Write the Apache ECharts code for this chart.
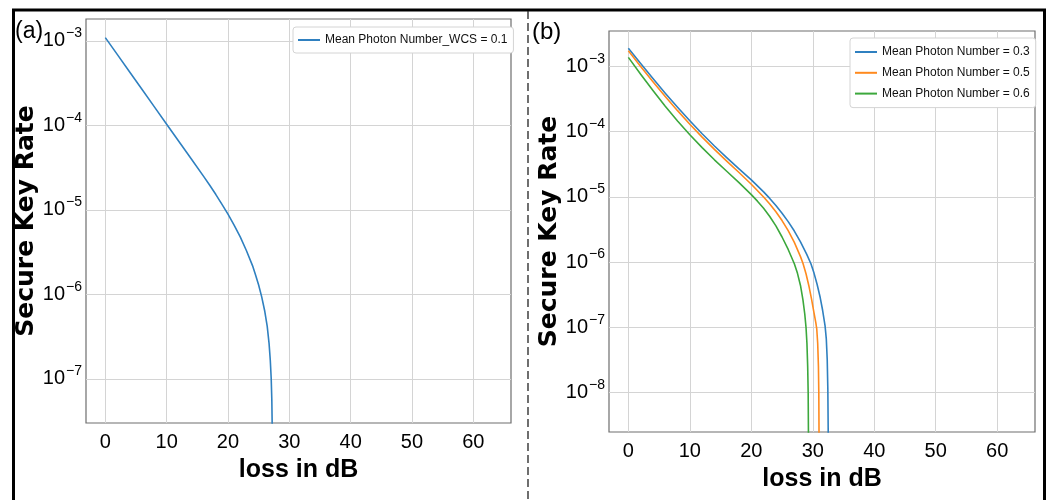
<!DOCTYPE html>
<html><head><meta charset="utf-8">
<script src="https://cdn.jsdelivr.net/npm/echarts@6/dist/echarts.min.js"></script>
<style>html,body{margin:0;padding:0;background:#fff}#c{width:1049px;height:500px}</style>
</head><body><div id="c"></div>
<script>
// ---------- data ----------
const seriesNameA = 'Mean Photon Number_WCS = 0.1';
const lossA = [0, 2, 4, 6, 8, 10, 12, 14, 16, 17, 18, 19, 20, 21, 22, 23, 24, 24.5, 25, 25.5, 26, 26.4, 26.7, 26.9, 27.05, 27.15, 27.22, 27.26];
const rateA = [1.096e-3, 6.84e-4, 4.27e-4, 2.66e-4, 1.66e-4, 1.035e-4, 6.46e-5, 4.03e-5, 2.51e-5, 1.97e-5, 1.53e-5, 1.17e-5, 8.91e-6, 6.61e-6, 4.79e-6, 3.31e-6, 2.19e-6, 1.70e-6, 1.29e-6, 9.33e-7, 6.31e-7, 4.17e-7, 2.63e-7, 1.66e-7, 1.0e-7, 5.62e-8, 2.51e-8, 1.0e-8];

const seriesNamesB = ['Mean Photon Number = 0.3', 'Mean Photon Number = 0.5', 'Mean Photon Number = 0.6'];
const lossB03 = [0, 2, 4, 6, 8, 10, 12, 14, 16, 18, 20, 22, 23, 24, 25, 26, 27, 28, 29, 29.7, 30.2, 30.7, 31.2, 31.6, 32.0, 32.2, 32.35, 32.45, 32.52];
const rateB03 = [1.905e-3, 1.107e-3, 6.52e-4, 3.89e-4, 2.37e-4, 1.47e-4, 9.29e-5, 6.03e-5, 4.00e-5, 2.69e-5, 1.82e-5, 1.19e-5, 9.46e-6, 7.38e-6, 5.62e-6, 4.17e-6, 2.99e-6, 2.04e-6, 1.32e-6, 9.40e-7, 6.76e-7, 4.57e-7, 2.88e-7, 1.82e-7, 1.05e-7, 6.61e-8, 3.16e-8, 1.12e-8, 2.0e-9];
const lossB05 = [0, 2, 4, 6, 8, 10, 12, 14, 16, 18, 20, 22, 23, 24, 25, 26, 27, 28, 28.4, 28.9, 29.4, 29.8, 30.2, 30.5, 30.65, 30.8, 30.92, 30.98, 31.02];
const rateB05 = [1.74e-3, 1.0e-3, 5.83e-4, 3.47e-4, 2.10e-4, 1.30e-4, 8.24e-5, 5.35e-5, 3.53e-5, 2.36e-5, 1.56e-5, 9.95e-6, 7.78e-6, 5.90e-6, 4.33e-6, 3.03e-6, 2.0e-6, 1.21e-6, 9.55e-7, 6.61e-7, 4.17e-7, 2.69e-7, 1.66e-7, 1.17e-7, 9.33e-8, 5.62e-8, 2.51e-8, 1.0e-8, 2.0e-9];
const lossB06 = [0, 2, 4, 6, 8, 10, 12, 14, 16, 18, 20, 21, 22, 23, 24, 25, 26, 27, 27.5, 28, 28.4, 28.7, 28.9, 29.05, 29.17, 29.25, 29.3];
const rateB06 = [1.38e-3, 7.59e-4, 4.27e-4, 2.45e-4, 1.46e-4, 8.95e-5, 5.68e-5, 3.70e-5, 2.47e-5, 1.65e-5, 1.08e-5, 8.59e-6, 6.67e-6, 5.0e-6, 3.58e-6, 2.42e-6, 1.56e-6, 9.42e-7, 6.76e-7, 4.37e-7, 2.63e-7, 1.58e-7, 1.0e-7, 5.62e-8, 2.51e-8, 1.0e-8, 2.0e-9];

const xTicks = [0, 10, 20, 30, 40, 50, 60];
const yTicksA = [1e-7, 1e-6, 1e-5, 1e-4, 1e-3];
const yTicksB = [1e-8, 1e-7, 1e-6, 1e-5, 1e-4, 1e-3];
const xRange = [-3.15, 66.15];
const yRangeA = [3.0e-8, 1.82e-3];
const yRangeB = [2.47e-9, 3.5e-3];
const panelLabels = ['(a)', '(b)'];
const xTitle = 'loss in dB';
const yTitle = 'Secure Key Rate';
const colors = ['#2f80c0', '#ff8a1e', '#3ca83c'];

// ---------- chart ----------
const NF = '"Liberation Sans", Arial, sans-serif';
const zip = (xs, ys) => xs.map((x, i) => [x, ys[i]]);

function pow10Label(v) {
  const e = Math.round(Math.log10(v));
  return '{b|10}{s|\u2212' + Math.abs(e) + '}';
}
const yLabelRich = {
  b: { fontSize: 20, fontFamily: NF, color: '#000', lineHeight: 24 },
  s: { fontSize: 14, fontFamily: NF, color: '#000', padding: [0, 0, 15, 1] }
};

function xAxisCfg(gi) {
  return {
    type: 'value', gridIndex: gi, min: xRange[0], max: xRange[1],
    name: xTitle, nameLocation: 'middle', nameGap: 35,
    nameTextStyle: { fontFamily: NF, fontWeight: 'bold', fontSize: 25, color: '#000' },
    axisLine: { show: false },
    axisTick: { show: false, customValues: xTicks },
    axisLabel: { customValues: xTicks, fontFamily: NF, fontSize: 20, color: '#000', margin: 9,
                 formatter: v => String(v) },
    splitLine: { show: true, lineStyle: { color: '#d4d4d4', width: 1 } }
  };
}
function yAxisCfg(gi, range, ticks) {
  return {
    type: 'log', gridIndex: gi, min: range[0], max: range[1], logBase: 10,
    name: yTitle, nameLocation: 'middle', nameGap: 42, nameRotate: 90,
    nameTextStyle: { fontFamily: '"DejaVu Sans", sans-serif', fontWeight: 'bold', fontSize: 25, color: '#000' },
    axisLine: { show: false },
    axisTick: { show: false, customValues: ticks },
    axisLabel: { customValues: ticks, margin: 4, formatter: pow10Label, rich: yLabelRich },
    splitLine: { show: true, lineStyle: { color: '#d4d4d4', width: 1 } }
  };
}
function lineSeries(name, xs, ys, gi, color) {
  return {
    name, type: 'line', xAxisIndex: gi, yAxisIndex: gi, data: zip(xs, ys),
    symbol: 'none', showSymbol: false, clip: true, smooth: false,
    lineStyle: { width: 1.6, color, join: 'round' }, itemStyle: { color }
  };
}
const legendBase = {
  orient: 'vertical', backgroundColor: '#fff', borderColor: '#d4d4d4', borderWidth: 1, borderRadius: 3,
  icon: 'rect', itemWidth: 22, itemHeight: 2,
  textStyle: { fontFamily: NF, fontSize: 12, color: '#111', lineHeight: 16 }
};

const chart = echarts.init(document.getElementById('c'), null, { renderer: 'canvas' });
chart.setOption({
  animation: false,
  backgroundColor: '#fff',
  grid: [
    { left: 86, top: 19, width: 425, height: 404, show: true, borderColor: '#6e6e6e', borderWidth: 1.2, backgroundColor: 'transparent' },
    { left: 609, top: 31, width: 426, height: 401, show: true, borderColor: '#6e6e6e', borderWidth: 1.2, backgroundColor: 'transparent' }
  ],
  xAxis: [xAxisCfg(0), xAxisCfg(1)],
  yAxis: [yAxisCfg(0, yRangeA, yTicksA), yAxisCfg(1, yRangeB, yTicksB)],
  legend: [
    Object.assign({}, legendBase, { data: [seriesNameA], left: 293, top: 27, padding: [5, 6, 5, 5], itemGap: 5 }),
    Object.assign({}, legendBase, { data: seriesNamesB, left: 850, top: 38, padding: [6, 6, 6, 5], itemGap: 4.8 })
  ],
  series: [
    lineSeries(seriesNameA, lossA, rateA, 0, colors[0]),
    lineSeries(seriesNamesB[0], lossB03, rateB03, 1, colors[0]),
    lineSeries(seriesNamesB[1], lossB05, rateB05, 1, colors[1]),
    lineSeries(seriesNamesB[2], lossB06, rateB06, 1, colors[2])
  ],
  graphic: [
    { type: 'rect', shape: { x: 13.5, y: 10, width: 1031, height: 496 }, style: { fill: 'none', stroke: '#000', lineWidth: 3 }, silent: true },
    { type: 'line', shape: { x1: 528, y1: 11, x2: 528, y2: 500 }, style: { stroke: '#222', lineWidth: 1.3, lineDash: [8, 4] }, silent: true },
    { type: 'text', left: 15, top: 20, style: { text: panelLabels[0], font: '23px ' + NF, fill: '#000' } },
    { type: 'text', left: 532, top: 20, style: { text: panelLabels[1], font: '24px ' + NF, fill: '#000' } }
  ]
});
</script></body></html>
